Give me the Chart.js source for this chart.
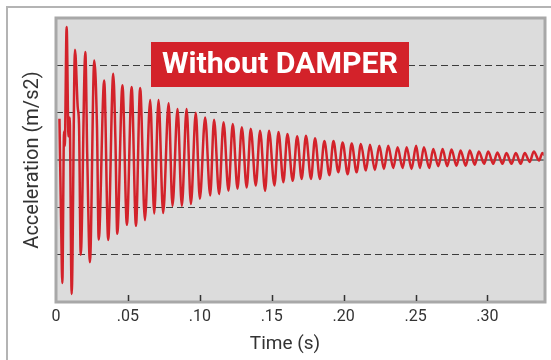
<!DOCTYPE html>
<html lang="en">
<head>
  <meta charset="UTF-8" />
  <title>Without DAMPER</title>
  <script src="https://cdn.jsdelivr.net/npm/chart.js"></script>
  <style>
    html, body { margin: 0; padding: 0; background: #fff; }
    #wrap { width: 551px; height: 360px; position: relative; }
  </style>
</head>
<body>
  <div id="wrap"><canvas id="chart-accel"></canvas></div>

  <script>
    // extrema of the trace (time in s, acceleration in grid units)
    const times = [
      0.0024, 0.0036, 0.0044, 0.0056, 0.0061, 0.0074, 0.0087, 0.0095, 0.0109,
      0.0132, 0.0151, 0.0160, 0.0172, 0.0204, 0.0217, 0.0236, 0.0266, 0.0285,
      0.0297, 0.0335, 0.0363, 0.0398, 0.0413, 0.0426, 0.0462, 0.0493, 0.0526,
      0.0556, 0.0585, 0.0618, 0.0655, 0.0683, 0.0713, 0.0745, 0.0783, 0.0810,
      0.0845, 0.0875, 0.0908, 0.0938, 0.0972, 0.1000, 0.1037, 0.1072, 0.1099,
      0.1134, 0.1165, 0.1199, 0.1229, 0.1262, 0.1292, 0.1326, 0.1354, 0.1389,
      0.1419, 0.1454, 0.1481, 0.1519, 0.1547, 0.1581, 0.1609, 0.1646, 0.1677,
      0.1708, 0.1738, 0.1773, 0.1801, 0.1835, 0.1866, 0.1901, 0.1929, 0.1963,
      0.1993, 0.2028, 0.2056, 0.2090, 0.2120, 0.2155, 0.2183, 0.2217, 0.2248,
      0.2280, 0.2310, 0.2345, 0.2375, 0.2410, 0.2438, 0.2472, 0.2504, 0.2530,
      0.2558, 0.2595, 0.2623, 0.2658, 0.2688, 0.2720, 0.2750, 0.2785, 0.2813,
      0.2849, 0.2877, 0.2912, 0.2940, 0.2977, 0.3005, 0.3040, 0.3069, 0.3104,
      0.3132, 0.3167, 0.3197, 0.3231, 0.3259, 0.3294, 0.3322, 0.3359, 0.3382,
      0.3396
    ];
    const accel = [
      0.87, -1.40, -2.60, 0.60, 0.30, 2.81, 0.50, 0.90, -2.83,
      2.33, 1.12, 0.76, -2.00, 2.28, 0.13, -2.16, 2.10, 0.70,
      -1.68, 1.68, -1.69, 1.82, 0.45, -1.56, 1.58, -1.37, 1.54,
      -1.39, 1.52, -1.27, 1.27, -1.13, 1.27, -1.12, 1.20, -0.97,
      1.08, -0.97, 1.08, -0.93, 1.00, -0.82, 0.90, -0.75, 0.85,
      -0.72, 0.80, -0.65, 0.76, -0.61, 0.69, -0.58, 0.66, -0.54,
      0.62, -0.65, 0.62, -0.54, 0.59, -0.47, 0.55, -0.44, 0.50,
      -0.40, 0.51, -0.40, 0.46, -0.40, 0.40, -0.32, 0.40, -0.26,
      0.37, -0.30, 0.35, -0.26, 0.34, -0.22, 0.32, -0.21, 0.30,
      -0.19, 0.30, -0.17, 0.27, -0.17, 0.27, -0.19, 0.30, -0.17,
      0.27, -0.17, 0.23, -0.13, 0.23, -0.13, 0.22, -0.12, 0.20,
      -0.12, 0.20, -0.10, 0.18, -0.08, 0.18, -0.08, 0.16, -0.08,
      0.15, -0.08, 0.15, -0.08, 0.15, -0.04, 0.18, -0.01, 0.15,
      0.10
    ];
    const tickLabels = ["0", ".05", ".10", ".15", ".20", ".25", ".30"];
    const chartTitle = "Without DAMPER";
    const xTitle = "Time (s)";
    const yTitle = "Acceleration (m/s2)";

    const RED = "#d3222a";
    const FONT = "Roboto, 'DejaVu Sans', sans-serif";

    const points = times.map((t, i) => ({ x: t, y: accel[i] }));

    // background, frames, inner tick marks and the red title box
    const decor = {
      id: "decor",
      beforeDraw(chart) {
        const { ctx, chartArea: a } = chart;
        ctx.save();
        ctx.fillStyle = "#dcdcdc";
        ctx.fillRect(a.left, a.top, a.right - a.left, a.bottom - a.top);
        ctx.strokeStyle = "#b4b4b4";
        ctx.lineWidth = 2;
        ctx.beginPath();
        ctx.moveTo(7, 360);
        ctx.lineTo(7, 7);
        ctx.lineTo(551, 7);
        ctx.stroke();
        ctx.restore();
      },
      afterDraw(chart) {
        const { ctx, chartArea: a, scales } = chart;
        ctx.save();
        ctx.strokeStyle = "#a8a8a8";
        ctx.lineWidth = 3;
        ctx.strokeRect(a.left, a.top, a.right - a.left, a.bottom - a.top);

        ctx.strokeStyle = "#333";
        ctx.lineWidth = 1.5;
        scales.x.ticks.forEach(t => {
          if (t.value === 0) return;
          const px = Math.round(scales.x.getPixelForValue(t.value)) + 0.5;
          ctx.beginPath();
          ctx.moveTo(px, a.bottom - 7);
          ctx.lineTo(px, a.bottom - 1);
          ctx.stroke();
        });

        // x axis title, a bit left of centre like the original
        ctx.fillStyle = "#333";
        ctx.font = "19px " + FONT;
        ctx.textAlign = "center";
        ctx.textBaseline = "middle";
        ctx.fillText(xTitle, 285, 344);

        // title box
        ctx.fillStyle = RED;
        ctx.fillRect(151, 42, 258, 45);
        ctx.font = "bold 30px " + FONT;
        const w = ctx.measureText(chartTitle).width;
        const size = 30 * 236 / w;
        ctx.font = "bold " + size.toFixed(1) + "px " + FONT;
        ctx.fillStyle = "#fff";
        ctx.fillText(chartTitle, 280, 65);
        ctx.restore();
      }
    };

    new Chart(document.getElementById("chart-accel"), {
      type: "line",
      data: {
        datasets: [{
          data: points,
          borderColor: RED,
          borderWidth: 2.5,
          pointRadius: 0,
          cubicInterpolationMode: "monotone",
          fill: false
        }]
      },
      options: {
        responsive: true,
        maintainAspectRatio: false,
        animation: false,
        layout: { padding: { left: 0, right: 6, top: 18, bottom: 0 } },
        plugins: { legend: { display: false }, tooltip: { enabled: false } },
        scales: {
          x: {
            type: "linear",
            min: 0,
            max: 0.34,
            afterFit(scale) { scale.height = 58; },
            grid: { display: false, drawTicks: false },
            border: { display: false },
            ticks: {
              stepSize: 0.05,
              includeBounds: false,
              padding: 5,
              color: "#333",
              font: { family: FONT, size: 16 },
              maxRotation: 0,
              autoSkip: false,
              callback: v => {
                const i = Math.round(v / 0.05);
                return Math.abs(v - i * 0.05) < 1e-6 ? tickLabels[i] : "";
              }
            }
          },
          y: {
            min: -3,
            max: 3,
            afterFit(scale) { scale.width = 56; },
            ticks: { display: false, stepSize: 1 },
            border: {
              display: false,
              dash: ctx => (ctx.tick && ctx.tick.value === 0 ? [] : [7, 4])
            },
            grid: {
              drawTicks: false,
              color: ctx => {
                const v = ctx.tick.value;
                if (Math.abs(v) === 3) return "rgba(0,0,0,0)";
                return v === 0 ? "#7a7a7a" : "#3c3c3c";
              },
              lineWidth: ctx => (ctx.tick.value === 0 ? 2 : 1)
            },
            title: {
              display: true,
              text: yTitle,
              color: "#333",
              font: { family: FONT, size: 20 },
              padding: { top: 21, bottom: 0 }
            }
          }
        }
      },
      plugins: [decor]
    });
  </script>
</body>
</html>
